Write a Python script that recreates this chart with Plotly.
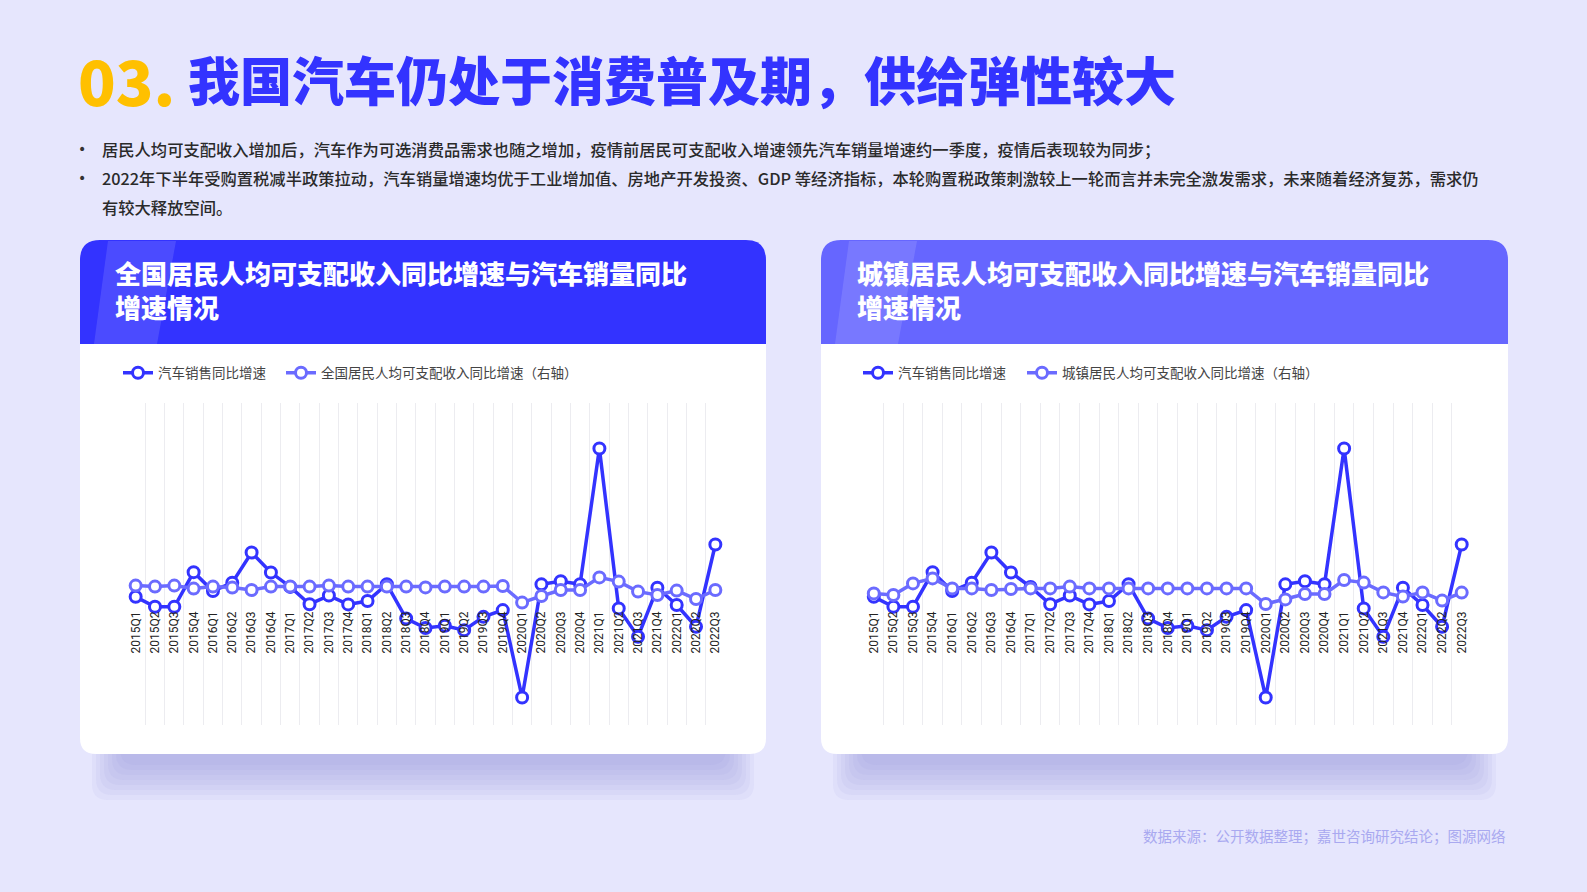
import plotly.graph_objects as go

W, H = 1587, 892

# quarters on the x axis
quarters = ["2015Q1", "2015Q2", "2015Q3", "2015Q4", "2016Q1", "2016Q2", "2016Q3", "2016Q4",
            "2017Q1", "2017Q2", "2017Q3", "2017Q4", "2018Q1", "2018Q2", "2018Q3", "2018Q4",
            "2019Q1", "2019Q2", "2019Q3", "2019Q4", "2020Q1", "2020Q2", "2020Q3", "2020Q4",
            "2021Q1", "2021Q2", "2021Q3", "2021Q4", "2022Q1", "2022Q2", "2022Q3"]

# car sales yoy (%), same series on both charts
car_sales = [5.3, 0.6, 0.6, 17.0, 8.0, 12.0, 26.3, 16.8, 10.0, 1.8, 5.9, 1.7, 3.3, 11.3, -5.0, -9.5,
             -8.4, -10.5, -4.2, -1.0, -42.4, 11.2, 12.7, 11.3, 75.6, -0.2, -13.6, 9.6, 1.4, -8.9, 30.1]

# national per capita disposable income yoy (%, right axis)
income_national = [9.2, 8.7, 9.2, 7.7, 8.7, 8.2, 7.0, 8.7, 8.7, 8.7, 9.2, 8.7, 8.7, 8.7, 8.7, 8.3,
                   8.7, 8.7, 8.7, 9.0, 0.7, 4.0, 7.0, 7.0, 13.3, 11.2, 6.2, 4.5, 6.7, 2.5, 7.0]

# urban per capita disposable income yoy (%, right axis)
income_urban = [5.3, 4.5, 10.3, 12.8, 7.8, 7.8, 7.0, 7.5, 7.8, 7.8, 8.7, 7.8, 7.8, 7.8, 7.8, 7.8,
                7.8, 7.8, 7.8, 7.8, 0.0, 2.3, 5.0, 5.0, 12.0, 10.7, 5.8, 3.7, 5.8, 1.7, 5.7]

name_sales = "汽车销售同比增速"
name_national = "全国居民人均可支配收入同比增速（右轴）"
name_urban = "城镇居民人均可支配收入同比增速（右轴）"

title_num = "03."
title_text = "我国汽车仍处于消费普及期，供给弹性较大"
bullet_lines = [
    "居民人均可支配收入增加后，汽车作为可选消费品需求也随之增加，疫情前居民可支配收入增速领先汽车销量增速约一季度，疫情后表现较为同步；",
    "2022年下半年受购置税减半政策拉动，汽车销量增速均优于工业增加值、房地产开发投资、GDP 等经济指标，本轮购置税政策刺激较上一轮而言并未完全激发需求，未来随着经济复苏，需求仍",
    "有较大释放空间。",
]
card_titles = ["全国居民人均可支配收入同比增速与汽车销量同比<br>增速情况",
               "城镇居民人均可支配收入同比增速与汽车销量同比<br>增速情况"]
source_text = "数据来源：公开数据整理；嘉世咨询研究结论；图源网络"

DARK = "#3333ff"
LIGHT = "#6b6bff"
BG = "#e6e6fd"
CJK = "Noto Sans CJK SC"


def X(x):
    return x / W


def Y(y):
    return 1 - y / H


def rounded(x0, y0, x1, y1, rt, rb):
    return (f"M {X(x0+rt)},{Y(y0)} L {X(x1-rt)},{Y(y0)} Q {X(x1)},{Y(y0)} {X(x1)},{Y(y0+rt)} "
            f"L {X(x1)},{Y(y1-rb)} Q {X(x1)},{Y(y1)} {X(x1-rb)},{Y(y1)} "
            f"L {X(x0+rb)},{Y(y1)} Q {X(x0)},{Y(y1)} {X(x0)},{Y(y1-rb)} "
            f"L {X(x0)},{Y(y0+rt)} Q {X(x0)},{Y(y0)} {X(x0+rt)},{Y(y0)} Z")


def series(x, y, name, color, xa, ya, leg):
    return go.Scatter(x=x, y=y, name=name, mode="lines+markers",
                      line=dict(color=color, width=3.5),
                      marker=dict(size=11, color="white", line=dict(color=color, width=3)),
                      xaxis=xa, yaxis=ya, legend=leg)


fig = go.Figure()
# income on the overlaying axis so it is drawn on top
fig.add_trace(series(quarters, car_sales, name_sales, DARK, "x", "y", "legend"))
fig.add_trace(series(quarters, income_national, name_national, LIGHT, "x", "y2", "legend2"))
fig.add_trace(series(quarters, car_sales, name_sales, DARK, "x2", "y3", "legend3"))
fig.add_trace(series(quarters, income_urban, name_urban, LIGHT, "x2", "y4", "legend4"))

plot_top, plot_bot, zero_y = 403, 725, 608
sales_range = [(zero_y - plot_bot) / 2.11, (zero_y - plot_top) / 2.11]
income_range = [(604 - plot_bot) / 2.0, (604 - plot_top) / 2.0]

xcommon = dict(type="category", tickson="boundaries", showgrid=True, gridcolor="#ececf0", gridwidth=1,
               ticks="", showline=False, zeroline=False, tickangle=-90, anchor="free",
               position=Y(zero_y), ticklabelstandoff=0, range=[-0.5, len(quarters) - 0.5],
               tickfont=dict(family="Roboto", size=12, color="#222"))
yhidden = dict(showgrid=False, zeroline=False, showticklabels=False, showline=False, ticks="")

fig.update_layout(
    xaxis=dict(domain=[X(126), X(725)], **xcommon),
    xaxis2=dict(domain=[X(864), X(1471.5)], **xcommon),
    yaxis=dict(domain=[Y(plot_bot), Y(plot_top)], range=sales_range, anchor="x", **yhidden),
    yaxis2=dict(range=income_range, overlaying="y", anchor="x", side="right", **yhidden),
    yaxis3=dict(domain=[Y(plot_bot), Y(plot_top)], range=sales_range, anchor="x2", **yhidden),
    yaxis4=dict(range=income_range, overlaying="y3", anchor="x2", side="right", **yhidden),
)

legend_font = dict(family=CJK, size=13.5, color="#444")
for key, lx in zip(["legend", "legend2", "legend3", "legend4"], [118, 281, 858, 1022]):
    fig.update_layout({key: dict(x=X(lx), y=Y(373), xanchor="left", yanchor="middle",
                                 orientation="h", font=legend_font, bgcolor="rgba(0,0,0,0)",
                                 itemwidth=30)})

shapes = []
cards = [(80, 766, DARK), (821, 1508, "#6666ff")]
for cx0, cx1, hcol in cards:
    # soft shadow under the card
    for k in range(8):
        shapes.append(dict(type="path", xref="paper", yref="paper", layer="below",
                           path=rounded(cx0 + 12 + 4 * k, 720, cx1 - 12 - 4 * k, 800 - 5 * k, 16, 16),
                           fillcolor="#8f8fd8", opacity=0.08, line=dict(width=0)))
    shapes.append(dict(type="path", xref="paper", yref="paper", layer="below",
                       path=rounded(cx0, 240, cx1, 754, 20, 16),
                       fillcolor="white", line=dict(width=0)))
    shapes.append(dict(type="path", xref="paper", yref="paper", layer="below",
                       path=rounded(cx0, 240, cx1, 344, 20, 0),
                       fillcolor=hcol, line=dict(width=0)))
    sx = cx0 - 80
    shapes.append(dict(type="path", xref="paper", yref="paper", layer="below",
                       path=(f"M {X(sx+108)},{Y(241)} L {X(sx+176)},{Y(241)} L {X(sx+157)},{Y(344)} "
                             f"L {X(sx+94)},{Y(344)} Z"),
                       fillcolor="white", opacity=0.12, line=dict(width=0)))

annotations = [
    dict(text=title_num, x=X(76), y=Y(79), xanchor="left", yanchor="middle",
         font=dict(family=CJK, size=62, color="#ffc000", weight=900)),
    dict(text=title_text, x=X(186), y=Y(79), xanchor="left", yanchor="middle",
         font=dict(family=CJK, size=52, color=DARK, weight=900)),
]
for i, (line, yy) in enumerate(zip(bullet_lines, [149, 178, 207])):
    if i < 2:
        annotations.append(dict(text="•", x=X(82), y=Y(yy), xanchor="center", yanchor="middle",
                                font=dict(family="DejaVu Sans", size=14, color="#333")))
    annotations.append(dict(text=line, x=X(100), y=Y(yy), xanchor="left", yanchor="middle",
                            font=dict(family=CJK, size=16.3, color="#2a2a2a", weight=500)))
for txt, hx in zip(card_titles, [113, 855]):
    annotations.append(dict(text=txt, x=X(hx), y=Y(290), xanchor="left", yanchor="middle",
                            align="left",
                            font=dict(family=CJK, size=26, color="white", weight=900)))
annotations.append(dict(text=source_text, x=X(1508), y=Y(835), xanchor="right", yanchor="middle",
                        font=dict(family=CJK, size=14.5, color="#a9a9f0")))
for a in annotations:
    a.update(xref="paper", yref="paper", showarrow=False)

fig.update_layout(width=W, height=H, margin=dict(l=0, r=0, t=0, b=0),
                  paper_bgcolor=BG, plot_bgcolor="rgba(0,0,0,0)",
                  shapes=shapes, annotations=annotations, showlegend=True)

fig.write_html("out.html", config={"displayModeBar": False},
               post_script="document.body.style.margin='0';")
